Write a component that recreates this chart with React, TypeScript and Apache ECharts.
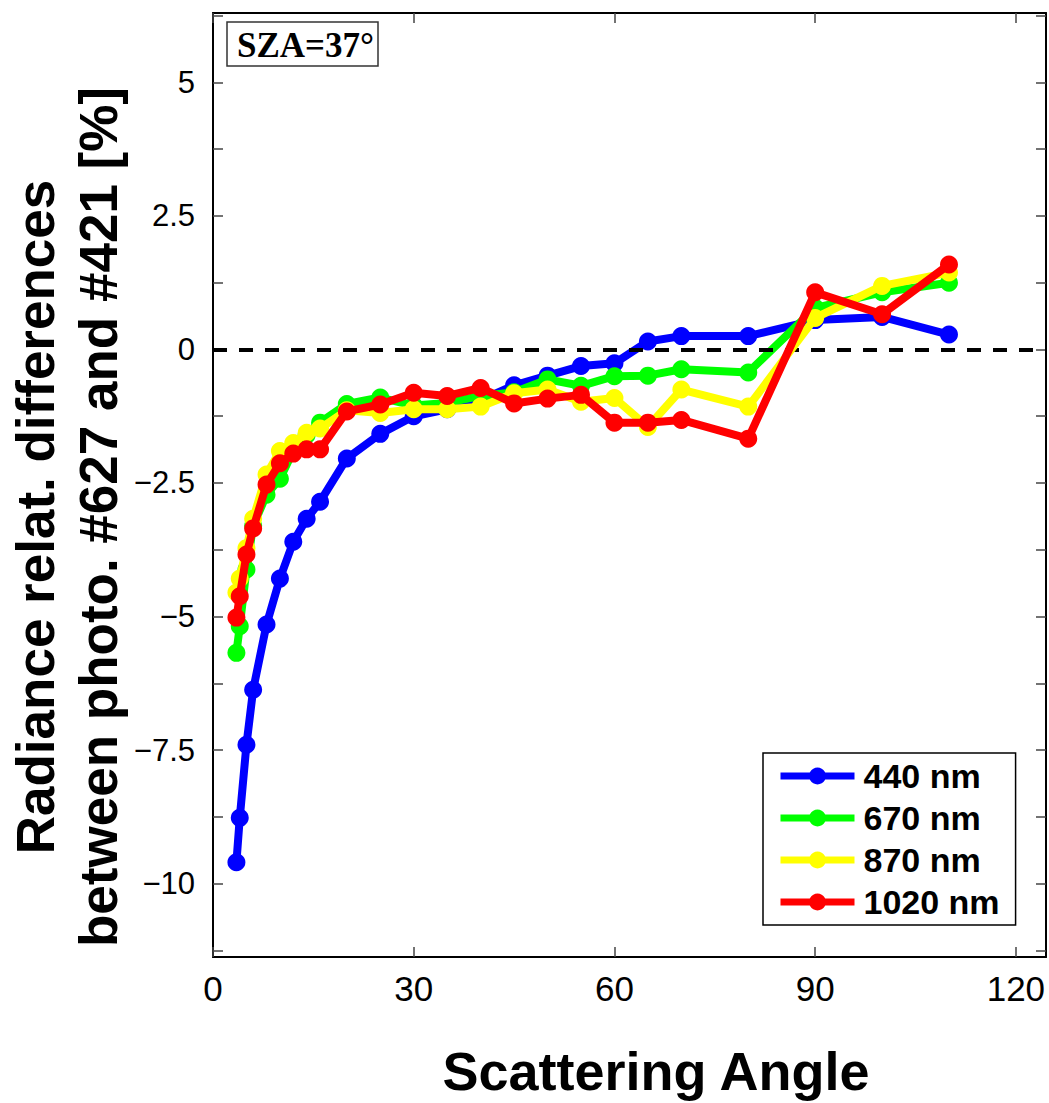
import React, { useEffect, useRef } from "react";
import * as echarts from "echarts";

const angles = [3.5, 4, 5, 6, 8, 10, 12, 14, 16, 20, 25, 30, 35, 40, 45, 50, 55, 60, 65, 70, 80, 90, 100, 110];
const s440 = [-9.6, -8.77, -7.4, -6.37, -5.15, -4.29, -3.6, -3.17, -2.85, -2.04, -1.58, -1.25, -1.12, -0.95, -0.67, -0.49, -0.31, -0.26, 0.15, 0.25, 0.25, 0.55, 0.61, 0.28];
const s670 = [-5.68, -5.18, -4.12, -3.3, -2.72, -2.42, -1.9, -1.6, -1.37, -1.02, -0.9, -1.05, -1.0, -0.87, -0.8, -0.56, -0.68, -0.5, -0.49, -0.37, -0.43, 0.78, 1.07, 1.25];
const s870 = [-4.55, -4.29, -3.72, -3.17, -2.34, -1.9, -1.75, -1.56, -1.48, -1.14, -1.19, -1.12, -1.12, -1.07, -0.82, -0.75, -0.98, -0.91, -1.45, -0.75, -1.07, 0.59, 1.19, 1.44];
const s1020 = [-5.02, -4.62, -3.84, -3.35, -2.53, -2.13, -1.95, -1.87, -1.87, -1.16, -1.03, -0.81, -0.87, -0.72, -1.01, -0.92, -0.85, -1.37, -1.37, -1.32, -1.67, 1.07, 0.66, 1.59];

const seriesNames = ["440 nm", "670 nm", "870 nm", "1020 nm"];
const seriesColors = ["#0000ff", "#00ff00", "#ffff00", "#ff0000"];
const seriesValues = [s440, s670, s870, s1020];

const xTicks = [0, 30, 60, 90, 120];
const yTicks = [-11.25, -10, -8.75, -7.5, -6.25, -5, -3.75, -2.5, -1.25, 0, 1.25, 2.5, 3.75, 5, 6.25];
const yLabels = [-10, -7.5, -5, -2.5, 0, 2.5, 5];

const FONT = "'Liberation Sans', Arial, Helvetica, sans-serif";

export default function App() {
  const ref = useRef<HTMLDivElement>(null);
  useEffect(() => {
    document.body.style.margin = "0";
    const chart = echarts.init(ref.current!, null, { renderer: "svg" });
    const axisLine = { show: true, onZero: false, lineStyle: { color: "#000", width: 2 } };
    const tick = { show: true, inside: true, length: 10, lineStyle: { color: "#444", width: 1.5 } };
    const fmt = (v: number) => String(v).replace("-", "\u2212");
    const series: any[] = seriesNames.map((name, i) => ({
      name,
      type: "line",
      data: angles.map((a, j) => [a, seriesValues[i][j]]),
      symbol: "circle",
      symbolSize: 18,
      showSymbol: true,
      lineStyle: { width: 8, color: seriesColors[i] },
      itemStyle: { color: seriesColors[i] },
      z: 3 + i,
    }));
    series[0].markLine = {
      silent: true,
      symbol: "none",
      label: { show: false },
      lineStyle: { color: "#000", width: 4, type: [14, 12] },
      data: [{ yAxis: 0 }],
    };
    chart.setOption({
      animation: false,
      backgroundColor: "#fff",
      grid: { left: 213, right: 3, top: 13, bottom: 146, containLabel: false },
      xAxis: [
        {
          type: "value", min: 0, max: 124.5, interval: 30, position: "bottom",
          axisLine, axisTick: { ...tick, customValues: xTicks },
          axisLabel: { customValues: xTicks, fontSize: 35, color: "#000", fontFamily: FONT, margin: 14 },
          splitLine: { show: false },
        },
        {
          type: "value", min: 0, max: 124.5, interval: 30, position: "top",
          axisLine, axisTick: { ...tick, customValues: xTicks },
          axisLabel: { show: false }, splitLine: { show: false },
        },
      ],
      yAxis: [
        {
          type: "value", min: -11.375, max: 6.3, position: "left",
          axisLine, axisTick: { ...tick, customValues: yTicks },
          axisLabel: { customValues: yLabels, fontSize: 31, color: "#000", fontFamily: FONT, margin: 18, formatter: fmt },
          splitLine: { show: false },
        },
        {
          type: "value", min: -11.375, max: 6.3, position: "right",
          axisLine, axisTick: { ...tick, customValues: yTicks },
          axisLabel: { show: false }, splitLine: { show: false },
        },
      ],
      legend: {
        orient: "vertical",
        left: 763,
        top: 753,
        data: seriesNames,
        backgroundColor: "#fff",
        borderColor: "#000",
        borderWidth: 1.5,
        borderRadius: 0,
        padding: [6, 16, 6, 14],
        itemWidth: 74,
        itemHeight: 21,
        itemGap: 8,
        lineStyle: { width: 7 },
        textStyle: { fontSize: 34, fontWeight: "bold", color: "#000", fontFamily: FONT, lineHeight: 34, padding: [0, 0, 0, 4] },
      },
      graphic: [
        {
          type: "rect", shape: { x: 227, y: 22, width: 151, height: 44 },
          style: { fill: "#fff", stroke: "#333", lineWidth: 1.5 }, z: 100,
        },
        {
          type: "text", x: 237, y: 45, z: 101,
          style: { text: "SZA=37\u00b0", fontSize: 35, fontWeight: "bold", fontFamily: "'Liberation Serif', 'Times New Roman', serif", fill: "#000", textAlign: "left", textVerticalAlign: "middle" },
        },
        {
          type: "text", x: 35, y: 517, rotation: Math.PI / 2,
          style: { text: "Radiance relat. differences", fontSize: 53, fontWeight: "bold", fontFamily: FONT, fill: "#000", textAlign: "center", textVerticalAlign: "middle" },
        },
        {
          type: "text", x: 98, y: 517, rotation: Math.PI / 2,
          style: { text: "between photo. #627 and #421 [%]", fontSize: 53, fontWeight: "bold", fontFamily: FONT, fill: "#000", textAlign: "center", textVerticalAlign: "middle" },
        },
        {
          type: "text", x: 656, y: 1071,
          style: { text: "Scattering Angle", fontSize: 54, fontWeight: "bold", fontFamily: FONT, fill: "#000", textAlign: "center", textVerticalAlign: "middle" },
        },
      ],
      series,
    });
    return () => chart.dispose();
  }, []);
  return <div ref={ref} style={{ position: "fixed", left: 0, top: 0, width: 1049, height: 1103 }} />;
}
